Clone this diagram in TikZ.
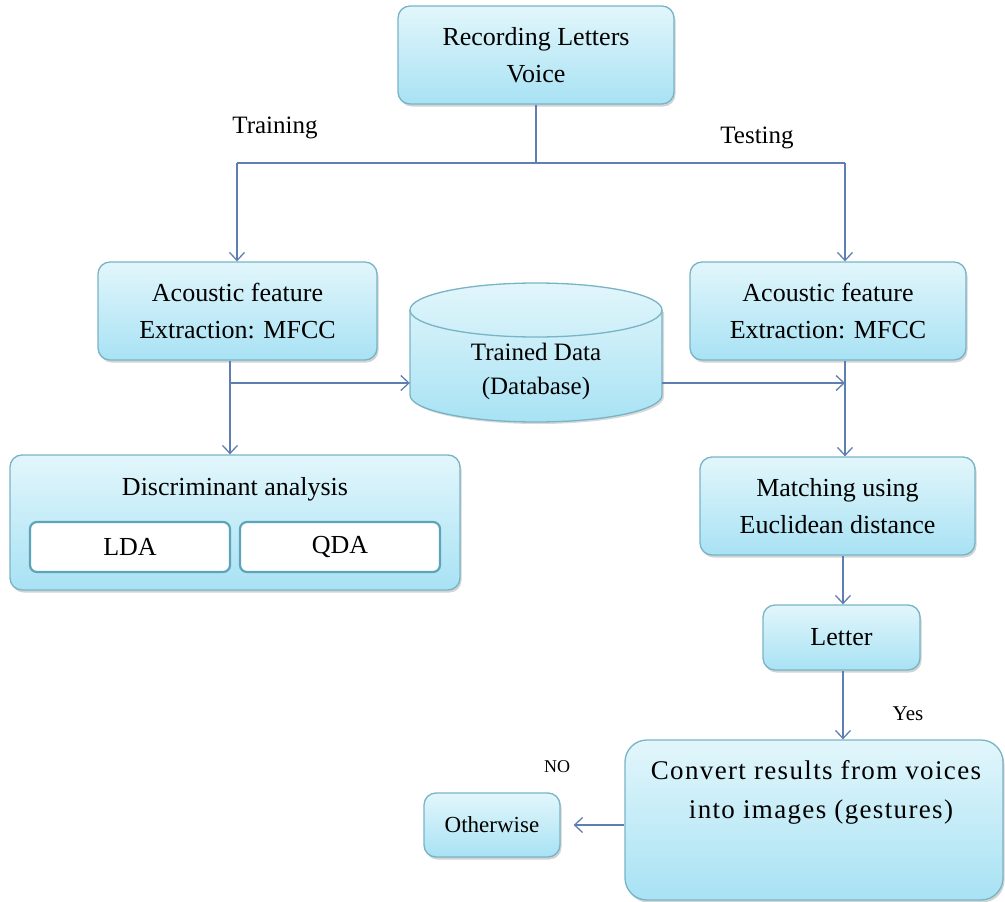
\documentclass[tikz,border=0pt]{standalone}
\usepackage{fontspec}
\setmainfont{Liberation Serif}
\usetikzlibrary{shadows,arrows.meta}
\definecolor{boxtop}{HTML}{E2F6FB}
\definecolor{boxbot}{HTML}{A8E2F4}
\definecolor{boxborder}{HTML}{78B4C6}
\definecolor{subborder}{HTML}{5FA3B8}
\definecolor{arrowc}{HTML}{5F7FB3}
\begin{document}
\begin{tikzpicture}[x=1pt,y=-1pt,
  box/.style={draw=boxborder, line width=1.3pt, rounded corners=12pt,
    top color=boxtop, bottom color=boxbot,
    drop shadow={shadow xshift=1.5pt, shadow yshift=-2.5pt, opacity=0.35, fill=gray},
    align=center, inner sep=0pt, font=\fontsize{26}{37}\selectfont},
  subbox/.style={draw=subborder, line width=2.2pt, fill=white, rounded corners=7pt,
    inner sep=0pt, font=\fontsize{26}{30}\selectfont},
  txt/.style={align=center, inner sep=0pt, font=\fontsize{26}{37}\selectfont},
  lbl/.style={inner sep=0pt, font=\fontsize{25}{28}\selectfont},
  ln/.style={draw=arrowc, line width=1.3pt},
  arr/.style={draw=arrowc, line width=1.3pt, -{Straight Barb[length=8pt,width=15pt,line width=1.3pt]}}]
\useasboundingbox (0,0) rectangle (1005,902);

% nodes
\node[box, minimum width=276pt, minimum height=98pt] (rec) at (536,55) {Recording Letters\\Voice};
\node[box, minimum width=279pt, minimum height=98pt] (ac1) at (237.5,311) {Acoustic feature\\Extraction: MFCC};
\node[box, minimum width=276pt, minimum height=98pt] (ac2) at (828,311) {Acoustic feature\\Extraction: MFCC};

% cylinder (Trained Data)
\fill[gray, opacity=0.3] (412,312) -- (412,397) arc[start angle=180, end angle=360, x radius=126pt, y radius=27pt] -- (664,312) -- cycle;
\shade[top color=boxtop, bottom color=boxbot, draw=boxborder, line width=1.3pt]
  (410,310) -- (410,395) arc[start angle=180, end angle=360, x radius=126pt, y radius=27pt] -- (662,310)
  arc[start angle=0, end angle=180, x radius=126pt, y radius=27pt] -- cycle;
\draw[boxborder, line width=1.3pt] (410,310) arc[start angle=180, end angle=360, x radius=126pt, y radius=27pt];
\node[minimum width=252pt, minimum height=140pt, inner sep=0pt] (db) at (536,352) {};
\node[txt, font=\fontsize{25}{34}\selectfont] (dbt) at (536,371) {Trained Data\\(Database)};

\node[box, minimum width=450pt, minimum height=135pt] (da) at (235,522.5) {};
\node[txt] (dat) at (235,489) {Discriminant analysis};
\node[subbox, minimum width=200pt, minimum height=50pt] (lda) at (130,547) {LDA};
\node[subbox, minimum width=200pt, minimum height=50pt] (qda) at (340,547) {QDA};

\node[box, minimum width=275pt, minimum height=98pt] (mt) at (837.5,506) {Matching using\\Euclidean distance};
\node[box, minimum width=157pt, minimum height=65pt] (let) at (841.5,637.5) {Letter};
\node[box, rounded corners=22pt, minimum width=378pt, minimum height=160pt] (conv) at (814,820) {};
\node[txt, font=\fontsize{27}{39}\selectfont\addfontfeatures{LetterSpace=5}] (convt) at (816,792) {Convert results from voices\\\hspace*{10pt}into images (gestures)};
\node[box, minimum width=136pt, minimum height=64pt, font=\fontsize{23}{26}\selectfont] (oth) at (492,825) {Otherwise};

% labels
\node[lbl] (ltr) at (275,128) {Training};
\node[lbl] (lte) at (757,138) {Testing};
\node[inner sep=0pt, font=\fontsize{21}{24}\selectfont] (lyes) at (908,714) {Yes};
\node[inner sep=0pt, font=\fontsize{18}{22}\selectfont] (lno) at (557,767) {NO};

% connectors
\coordinate (jm) at (536,163);
\coordinate (jl) at (237,163);
\coordinate (jr) at (845,163);
\coordinate (b1) at (230,383);
\coordinate (b2) at (845,383);
\coordinate (c1) at (843,0);
\draw[ln] (rec.south) -- (jm);
\draw[ln] (jl) -- (jr);
\draw[arr] (jl) -- (jl |- ac1.north);
\draw[arr] (jr) -- (jr |- ac2.north);
\draw[arr] (b1 |- ac1.south) -- (b1 |- da.north);
\draw[arr] (b1) -- (db.west |- b1);
\draw[arr] (db.east |- b2) -- (b2);
\draw[arr] (b2 |- ac2.south) -- (b2 |- mt.north);
\draw[arr] (c1 |- mt.south) -- (c1 |- let.north);
\draw[arr] (c1 |- let.south) -- (c1 |- conv.north);
\draw[arr, shorten >=13pt] (conv.west |- oth.east) -- (oth.east);
\end{tikzpicture}
\end{document}
